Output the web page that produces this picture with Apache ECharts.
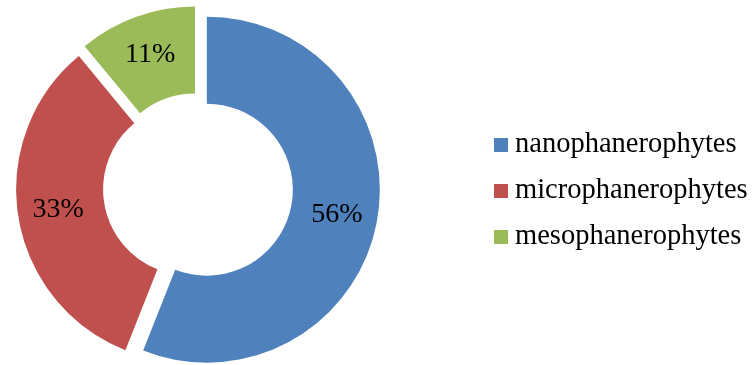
<!DOCTYPE html>
<html>
<head>
<meta charset="utf-8">
<script src="https://cdn.jsdelivr.net/npm/echarts@6/dist/echarts.min.js"></script>
<style>
    html, body { margin: 0; padding: 0; background: #fff; }
    #chart { width: 755px; height: 365px; }
</style>
</head>
<body>
<div id="chart"></div>
<script>
var categories = ["nanophanerophytes", "microphanerophytes", "mesophanerophytes"];
var values = [56, 33, 11];
var colors = ["#4F81BD", "#C0504D", "#9BBB59"];

var chartDom = document.getElementById("chart");
var myChart = echarts.init(chartDom);

var pieData = [];
for (var i = 0; i < categories.length; i++) {
    pieData.push({
        name: categories[i],
        value: values[i],
        selected: true,
        itemStyle: { color: colors[i] },
    });
}

var option = {
    animation: false,
    backgroundColor: "#fff",
    legend: {
        orient: "vertical",
        left: 489,
        top: 125,
        icon: "rect",
        itemWidth: 14,
        itemHeight: 14,
        itemGap: 16,
        selectedMode: false,
        textStyle: {
            fontFamily: "Liberation Serif",
            fontSize: 28.5,
            lineHeight: 30,
            color: "#000",
            padding: [0, 0, 0, 2],
        },
        data: categories,
    },
    series: [
        {
            type: "pie",
            center: [198, 188],
            radius: [86, 173],
            startAngle: 90,
            clockwise: true,
            selectedMode: "multiple",
            selectedOffset: 9,
            label: {
                show: true,
                position: "inside",
                formatter: "{c}%",
                fontFamily: "Liberation Serif",
                fontSize: 28,
                color: "#000",
                offset: [0, 3],
            },
            labelLine: { show: false },
            emphasis: { disabled: true },
            data: pieData,
        },
    ],
};

option && myChart.setOption(option);
</script>
</body>
</html>
